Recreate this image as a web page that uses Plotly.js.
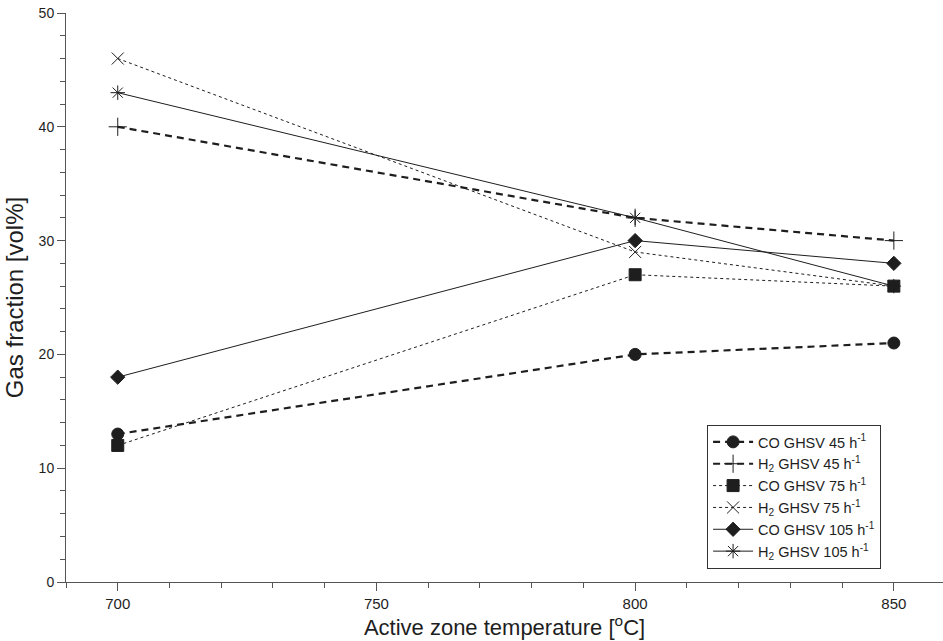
<!DOCTYPE html>
<html>
<head>
<meta charset="utf-8">
<script src="https://cdn.plot.ly/plotly-3.0.1.min.js"></script>
<style>html,body{margin:0;padding:0;background:#fff;}#chart{width:943px;height:641px;}</style>
</head>
<body>
<div id="chart"></div>
<script>
const temperatures = [700, 800, 850];
const coGhsv45 = [13, 20, 21];
const h2Ghsv45 = [40, 32, 30];
const coGhsv75 = [12, 27, 26];
const h2Ghsv75 = [46, 29, 26];
const coGhsv105 = [18, 30, 28];
const h2Ghsv105 = [43, 32, 26];
const seriesNames = [
  'CO GHSV 45 h<sup>-1</sup>',
  'H<sub>2</sub> GHSV 45 h<sup>-1</sup>',
  'CO GHSV 75 h<sup>-1</sup>',
  'H<sub>2</sub> GHSV 75 h<sup>-1</sup>',
  'CO GHSV 105 h<sup>-1</sup>',
  'H<sub>2</sub> GHSV 105 h<sup>-1</sup>'
];
const xTickVals = [700, 750, 800, 850];
const yTickVals = [0, 10, 20, 30, 40, 50];

const ink = '#1e1e1e';
function tr(y, name, symbol, size, dash, width) {
  return {
    x: temperatures, y: y, name: name, type: 'scatter', mode: 'lines+markers',
    line: {color: ink, dash: dash, width: width},
    marker: {symbol: symbol, size: size, color: ink, line: {color: ink, width: 1}}
  };
}
const data = [
  tr(coGhsv45, seriesNames[0], 'circle', 12, '7px,5px', 2.2),
  tr(h2Ghsv45, seriesNames[1], 'cross-thin-open', 13, '7px,5px', 2.2),
  tr(coGhsv75, seriesNames[2], 'square', 12, 'dot', 1),
  tr(h2Ghsv75, seriesNames[3], 'x-thin-open', 12, 'dot', 1),
  tr(coGhsv105, seriesNames[4], 'diamond', 11, 'solid', 1),
  tr(h2Ghsv105, seriesNames[5], 'asterisk-open', 12, 'solid', 1)
];

const layout = {
  width: 943, height: 641,
  margin: {l: 66, r: 0, t: 13, b: 59},
  paper_bgcolor: '#fff', plot_bgcolor: '#fff',
  font: {family: 'Liberation Sans, Arial, sans-serif', color: ink},
  showlegend: true,
  legend: {
    x: 0.731, y: 0.276, xanchor: 'left', yanchor: 'top',
    bgcolor: '#fff', bordercolor: '#333', borderwidth: 1,
    font: {size: 14.5, family: 'Liberation Sans, Arial, sans-serif', color: ink},
    tracegroupgap: 0, itemwidth: 40
  },
  xaxis: {
    range: [690, 859.5], tickvals: xTickVals, ticktext: xTickVals.map(String),
    showgrid: false, zeroline: false, showline: true, linecolor: '#555', linewidth: 1,
    ticks: 'outside', ticklen: 8, tickcolor: '#555', tickwidth: 1,
    tickfont: {size: 15, family: 'Liberation Sans Narrow, Liberation Sans, Arial, sans-serif'},
    minor: {dtick: 10, tick0: 700, ticks: 'outside', ticklen: 5, tickcolor: '#555', tickwidth: 1, showgrid: false},
    title: {text: 'Active zone temperature [<sup>o</sup>C]', standoff: 5,
      font: {size: 22, family: 'Liberation Sans Narrow, Liberation Sans, Arial, sans-serif'}}
  },
  yaxis: {
    range: [0, 50], tickvals: yTickVals, ticktext: yTickVals.map(String),
    showgrid: false, zeroline: false, showline: true, linecolor: '#555', linewidth: 1,
    ticks: 'outside', ticklen: 8, tickcolor: '#555', tickwidth: 1,
    tickfont: {size: 14},
    minor: {dtick: 2, tick0: 0, ticks: 'outside', ticklen: 5, tickcolor: '#555', tickwidth: 1, showgrid: false},
    title: {text: 'Gas fraction [vol%]', standoff: 8, font: {size: 24}}
  }
};
Plotly.newPlot('chart', data, layout, {displayModeBar: false, staticPlot: true});
</script>
</body>
</html>
